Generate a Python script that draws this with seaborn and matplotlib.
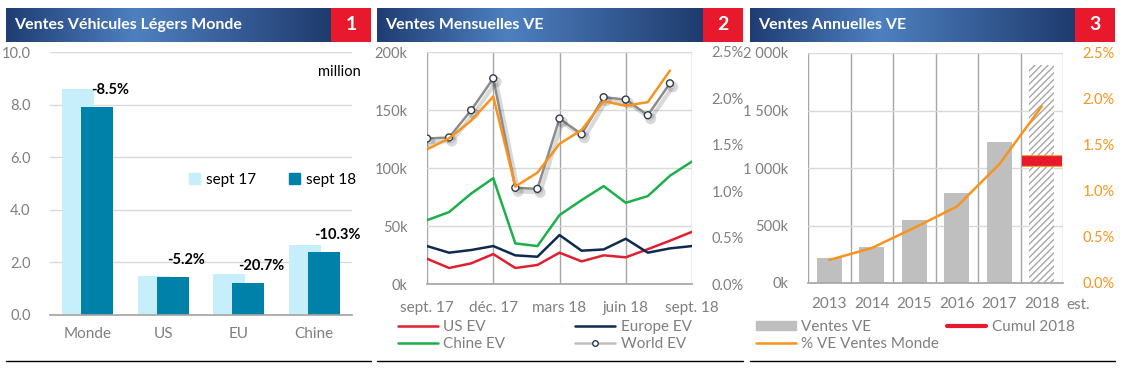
import numpy as np
import pandas as pd
import matplotlib
matplotlib.use("Agg")
import matplotlib.pyplot as plt
import matplotlib.patheffects as pe
from matplotlib.colors import LinearSegmentedColormap
from matplotlib.lines import Line2D
from matplotlib.patches import Patch
from matplotlib.ticker import FuncFormatter, MultipleLocator, FixedLocator
import seaborn as sns

# ---- data panel 1 (million vehicles, YTD sept)
regions = ["Monde", "US", "EU", "Chine"]
sales_sep17 = [8.6, 1.5, 1.55, 2.65]
sales_sep18 = [7.9, 1.45, 1.22, 2.4]
change_labels = ["-8.5%", "-5.2%", "-20.7%", "-10.3%"]

# ---- data panel 2 (monthly EV sales, k units; share in %)
month_idx = list(range(13))
month_tick_idx = [0, 3, 6, 9, 12]
month_ticks = ["sept. 17", "déc. 17", "mars 18", "juin 18", "sept. 18"]
us_ev = [21.8, 13.8, 17.8, 25.8, 13.8, 16.4, 27.0, 19.5, 24.7, 23.0, 30.0, 37.3, 45.0]
europe_ev = [32.7, 27.0, 29.3, 32.7, 24.7, 23.5, 42.2, 28.7, 29.8, 39.0, 27.0, 30.7, 32.7]
chine_ev = [55.0, 62.0, 78.0, 91.2, 35.0, 32.7, 59.4, 72.3, 84.4, 70.0, 75.8, 93.3, 105.6]
world_ev = [125.4, 126.3, 149.8, 177.3, 82.9, 82.0, 142.6, 129.1, 161.0, 159.0, 145.5, 173.0]
world_share = [1.45, 1.57, 1.76, 2.02, 1.05, 1.20, 1.51, 1.66, 1.97, 1.92, 1.96, 2.30]

# ---- data panel 3 (annual EV sales, k units; share in %)
years = ["2013", "2014", "2015", "2016", "2017", "2018"]
annual_ev = [214, 315, 552, 780, 1222, 1893]
ev_share = [0.25, 0.38, 0.60, 0.83, 1.29, 1.92]
cumul_2018 = 1058

W, H = 1126, 369
LIGHT = "#C6EEFB"
TEAL = "#0081A9"
GRID = "#D9D9D9"
VGRID = "#A6A6A6"
TXT = "#7F7F7F"
ORANGE = "#F7941D"
RED = "#E8192C"

sns.set_theme(style="white")
plt.rcParams["font.family"] = ["Lato", "DejaVu Sans"]


def box(x0, y0, x1, y1):
    return [x0 / W, 1 - y1 / H, (x1 - x0) / W, (y1 - y0) / H]


fig = plt.figure(figsize=(W / 100, H / 100), dpi=100)
fig.patch.set_facecolor("white")

grad = LinearSegmentedColormap.from_list(
    "bar", [(0, "#1F3D73"), (0.4, "#4E80C0"), (1, "#1F3B6E")])


def header(x0, x1, title, num):
    hx = fig.add_axes(box(x0, 8, x1 - 40, 42))
    hx.imshow(np.linspace(0, 1, 256)[None, :], aspect="auto", cmap=grad,
              extent=[0, 1, 0, 1])
    hx.set_axis_off()
    hx.text(0.025, 0.5, title, color="white", fontsize=11.5, fontweight="bold",
            va="center", ha="left", transform=hx.transAxes)
    rx = fig.add_axes(box(x1 - 40, 8, x1, 42))
    rx.set_facecolor(RED)
    rx.set_xticks([])
    rx.set_yticks([])
    for s in rx.spines.values():
        s.set_visible(False)
    rx.text(0.5, 0.5, num, color="white", fontsize=14, fontweight="bold",
            va="center", ha="center", transform=rx.transAxes)
    fig.add_artist(Line2D([x0 / W, x1 / W], [1 - 361 / H, 1 - 361 / H],
                          color="black", lw=1))


def style_axis(ax):
    for s in ["top", "right", "left"]:
        ax.spines[s].set_visible(False)
    ax.spines["bottom"].set_color(VGRID)
    ax.tick_params(colors=TXT, labelsize=10.5, length=0)


# ---------------- panel 1
header(6, 371, "Ventes Véhicules Légers Monde", "1")
ax1 = fig.add_axes(box(50, 52, 352, 315))
df1 = pd.DataFrame({
    "region": regions * 2,
    "value": sales_sep17 + sales_sep18,
    "period": ["sept 17"] * 4 + ["sept 18"] * 4,
})
sns.barplot(data=df1, x="region", y="value", hue="period",
            palette=[LIGHT, TEAL], saturation=1, ax=ax1, legend=False)
bw = 0.427
for p in ax1.patches:
    c = p.get_x() + p.get_width() / 2
    cat = round(c)
    side = -1 if c < cat else 1
    p.set_width(bw)
    p.set_x(cat + side * 0.127 - bw / 2)
    p.set_edgecolor("none")
ax1.set_xlim(-0.5, 3.5)
ax1.set_ylim(0, 10)
ax1.yaxis.set_major_locator(MultipleLocator(2))
ax1.yaxis.set_major_formatter(FuncFormatter(lambda v, _: f"{v:.1f}"))
ax1.yaxis.grid(True, color=GRID, lw=1)
ax1.set_axisbelow(True)
ax1.set_xlabel("")
ax1.set_ylabel("")
style_axis(ax1)
ax1.tick_params(axis="y", pad=14)
ax1.tick_params(axis="x", pad=9, labelsize=11)
for i, lab in enumerate(change_labels):
    ax1.annotate(lab, (i + 0.3, sales_sep18[i] + 0.65), ha="center",
                 va="center", fontsize=10.5, fontweight="bold", color="black")
ax1.text(1.03, 0.924, "million", transform=ax1.transAxes, ha="right",
         va="center", fontsize=10.5, color="black")
ax1.legend(handles=[Patch(color=LIGHT, label="sept 17"),
                    Patch(color=TEAL, label="sept 18")],
           loc="center left", bbox_to_anchor=(0.46, 0.515), ncol=2,
           frameon=False, handlelength=0.7, handleheight=0.7,
           handletextpad=0.4, columnspacing=2.2, fontsize=11,
           labelcolor="black", borderpad=0, borderaxespad=0)

# ---------------- panel 2
header(377, 743, "Ventes Mensuelles VE", "2")
ax2 = fig.add_axes(box(427, 52, 692, 284))
df2 = pd.DataFrame({
    "m": month_idx * 3,
    "k": us_ev + europe_ev + chine_ev,
    "serie": ["US EV"] * 13 + ["Europe EV"] * 13 + ["Chine EV"] * 13,
})
pal2 = {"US EV": "#E0202F", "Europe EV": "#0E2A4F", "Chine EV": "#1DB04A"}
sns.lineplot(data=df2, x="m", y="k", hue="serie", palette=pal2, lw=1.8,
             ax=ax2, legend=False)
dfw = pd.DataFrame({"m": month_idx[:12], "k": world_ev})
sns.lineplot(data=dfw, x="m", y="k", color="#8C8C8C", lw=1.8, marker="o",
             markersize=5, markerfacecolor="white", markeredgecolor="#2F3B4C",
             markeredgewidth=1, ax=ax2)
ax2.lines[-1].set_path_effects([
    pe.SimpleLineShadow(offset=(2, -2.5), shadow_color="black", alpha=0.15,
                        linewidth=3),
    pe.Normal()])
ax2.set_xlim(0, 12)
ax2.set_ylim(0, 200)
ax2.yaxis.set_major_locator(MultipleLocator(50))
ax2.yaxis.set_major_formatter(FuncFormatter(lambda v, _: f"{v:.0f}k"))
ax2.set_xticks(month_tick_idx)
ax2.set_xticklabels(month_ticks)
ax2.xaxis.set_minor_locator(FixedLocator(month_idx))
ax2.yaxis.grid(True, color=GRID, lw=1)
ax2.xaxis.grid(True, color=VGRID, lw=1)
ax2.set_axisbelow(True)
ax2.set_xlabel("")
ax2.set_ylabel("")
style_axis(ax2)
ax2.tick_params(axis="x", which="both", direction="out", length=4,
                color=VGRID, pad=8, labelsize=11)
ax2.tick_params(axis="y", pad=14)
ax2b = ax2.twinx()
dfs = pd.DataFrame({"m": month_idx[:12], "pct": world_share})
sns.lineplot(data=dfs, x="m", y="pct", color=ORANGE, lw=1.8, ax=ax2b)
ax2b.set_ylim(0, 2.5)
ax2b.yaxis.set_major_locator(MultipleLocator(0.5))
ax2b.yaxis.set_major_formatter(FuncFormatter(lambda v, _: f"{v:.1f}%"))
ax2b.set_ylabel("")
for s in ax2b.spines.values():
    s.set_visible(False)
ax2b.tick_params(colors=TXT, labelsize=10.5, length=0, pad=14)
# ncol=2 fills column by column, so order is col1 then col2
fig.legend(handles=[
    Line2D([], [], color="#E0202F", lw=1.8, label="US EV"),
    Line2D([], [], color="#1DB04A", lw=1.8, label="Chine EV"),
    Line2D([], [], color="#0E2A4F", lw=1.8, label="Europe EV"),
    Line2D([], [], color="#BFBFBF", lw=1.8, marker="o", markersize=4,
           markerfacecolor="white", markeredgecolor="#2F3B4C",
           label="World EV")],
    loc="upper left", bbox_to_anchor=(398 / W, 1 - 320 / H), ncol=2,
    frameon=False, fontsize=11, labelcolor=TXT, handlelength=2.6,
    handletextpad=0.35, columnspacing=4.6, labelspacing=0.2,
    borderpad=0, borderaxespad=0)

# ---------------- panel 3
header(750, 1115, "Ventes Annuelles VE", "3")
ax3 = fig.add_axes(box(808, 53, 1063, 283))
df3 = pd.DataFrame({"year": years, "k": annual_ev})
sns.barplot(data=df3, x="year", y="k", color="#BFBFBF", saturation=1,
            width=0.58, ax=ax3)
for p in ax3.patches:
    p.set_edgecolor("none")
est = ax3.patches[-1]
est.set_facecolor("white")
est.set_edgecolor("#A6A6A6")
est.set_hatch("/////")
est.set_linewidth(0)
ax3.hlines(cumul_2018, 5 - 0.47, 5 + 0.47, color=RED, lw=7,
           path_effects=[pe.Stroke(linewidth=8.5, foreground=ORANGE),
                         pe.Normal()], zorder=5)
ax3.set_xlim(-0.5, 5.5)
ax3.set_ylim(0, 2000)
ax3.yaxis.set_major_locator(MultipleLocator(500))
ax3.yaxis.set_major_formatter(
    FuncFormatter(lambda v, _: f"{int(v):,}k".replace(",", " ")))
ax3.xaxis.set_minor_locator(FixedLocator(np.arange(-0.5, 6, 1)))
ax3.yaxis.grid(True, color=GRID, lw=1)
ax3.xaxis.grid(True, which="minor", color=VGRID, lw=1)
ax3.set_axisbelow(True)
ax3.set_xlabel("")
ax3.set_ylabel("")
style_axis(ax3)
ax3.tick_params(axis="x", which="minor", direction="out", length=4,
                color=VGRID)
ax3.tick_params(axis="x", which="major", pad=10, labelsize=11)
ax3.tick_params(axis="y", pad=14)
ax3.text(5.57, -0.095, "est.", transform=ax3.get_xaxis_transform(),
         ha="left", va="center", fontsize=11, color=TXT)
ax3b = ax3.twinx()
dfp = pd.DataFrame({"x": range(6), "pct": ev_share})
sns.lineplot(data=dfp, x="x", y="pct", color=ORANGE, lw=1.8, ax=ax3b)
ax3b.set_ylim(0, 2.5)
ax3b.yaxis.set_major_locator(MultipleLocator(0.5))
ax3b.yaxis.set_major_formatter(FuncFormatter(lambda v, _: f"{v:.1f}%"))
ax3b.set_ylabel("")
for s in ax3b.spines.values():
    s.set_visible(False)
ax3b.tick_params(colors=ORANGE, labelsize=10.5, length=0, pad=14)
fig.legend(handles=[
    Patch(color="#BFBFBF", label="Ventes VE"),
    Line2D([], [], color=ORANGE, lw=1.8, label="% VE Ventes Monde"),
    Line2D([], [], color=RED, lw=3, label="Cumul 2018")],
    loc="upper left", bbox_to_anchor=(756 / W, 1 - 320 / H), ncol=2,
    frameon=False, fontsize=11, labelcolor=TXT, handlelength=2.6,
    handleheight=0.6, handletextpad=0.35, columnspacing=0.5,
    labelspacing=0.2, borderpad=0, borderaxespad=0)

fig.savefig("out.png", dpi=100)
